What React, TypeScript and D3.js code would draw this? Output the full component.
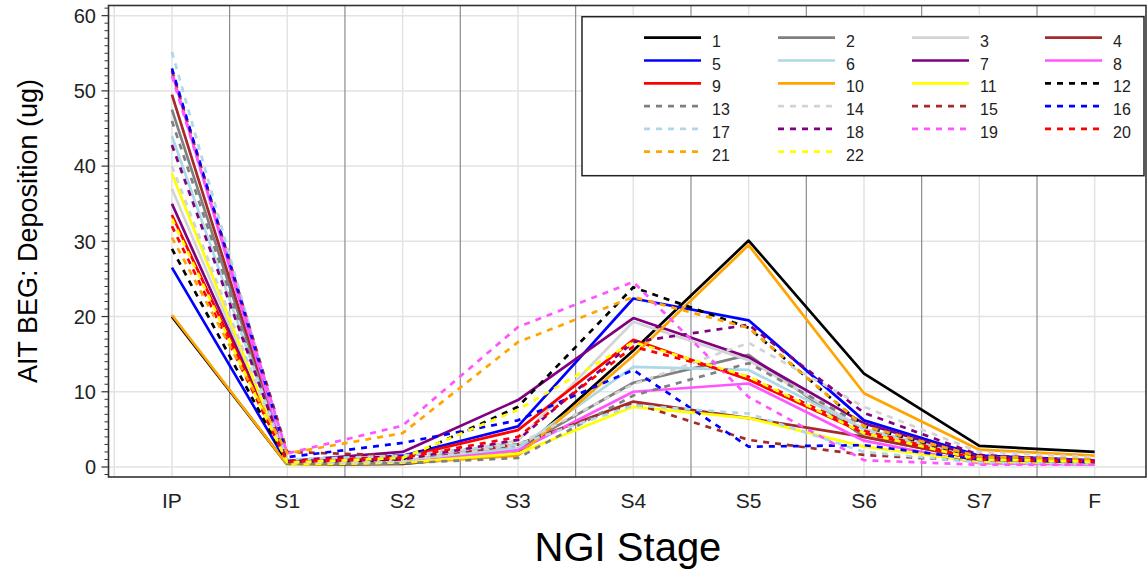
import React from "react";
import * as d3 from "d3";

const stages = ["IP", "S1", "S2", "S3", "S4", "S5", "S6", "S7", "F"];
const yTicks = [0, 10, 20, 30, 40, 50, 60];

const seriesNames = ["1","2","3","4","5","6","7","8","9","10","11","12","13","14","15","16","17","18","19","20","21","22"];
const seriesColors = [
  "#000000", "#808080", "#d3d3d3", "#a52a2a", "#0000ff", "#add8e6", "#800080", "#ff55ff",
  "#ff0000", "#ffa500", "#ffff00", "#000000", "#808080", "#d3d3d3", "#a52a2a", "#0000ff",
  "#add8e6", "#800080", "#ff55ff", "#ff0000", "#ffa500", "#ffff00",
];
const seriesDashed = [
  false, false, false, false, false, false, false, false, false, false, false,
  true, true, true, true, true, true, true, true, true, true, true,
];

const s1 = [20.0, 0.3, 0.4, 1.8, 15.5, 30.1, 12.4, 2.8, 2.0];
const s2 = [47.5, 0.5, 0.8, 2.5, 11.2, 14.9, 4.0, 1.0, 0.8];
const s3 = [37.0, 0.6, 0.8, 3.5, 19.3, 14.2, 5.0, 1.2, 0.9];
const s4 = [49.5, 0.5, 0.7, 3.0, 8.7, 6.5, 4.0, 1.0, 0.6];
const s5 = [26.5, 0.5, 1.5, 5.4, 22.4, 19.5, 6.2, 1.5, 0.9];
const s6 = [44.0, 0.5, 0.8, 2.5, 13.3, 12.9, 5.0, 1.3, 0.8];
const s7 = [35.0, 0.8, 2.0, 8.9, 19.8, 14.6, 5.8, 1.3, 0.8];
const s8 = [52.5, 0.5, 0.6, 2.2, 10.0, 11.1, 3.5, 0.5, 0.3];
const s9 = [33.5, 0.8, 1.3, 4.9, 16.9, 11.6, 4.5, 1.0, 0.6];
const s10 = [20.2, 0.3, 0.5, 1.5, 14.8, 29.5, 9.8, 2.3, 1.5];
const s11 = [39.0, 0.3, 0.6, 1.8, 8.0, 6.5, 2.7, 0.7, 0.5];
const s12 = [29.0, 0.5, 1.0, 8.0, 23.9, 18.5, 5.4, 1.2, 0.8];
const s13 = [46.0, 0.4, 0.5, 1.2, 9.5, 13.8, 5.5, 1.3, 1.0];
const s14 = [40.0, 0.5, 0.7, 3.0, 11.0, 16.5, 8.0, 2.0, 1.3];
const s15 = [52.7, 2.0, 1.5, 3.0, 8.5, 3.6, 1.6, 0.8, 0.4];
const s16 = [53.0, 1.3, 3.2, 6.2, 12.9, 2.7, 2.9, 1.0, 0.6];
const s17 = [55.2, 1.0, 1.5, 3.0, 8.2, 7.1, 2.0, 0.6, 0.4];
const s18 = [42.8, 0.8, 1.0, 3.6, 16.6, 18.9, 7.2, 1.6, 0.8];
const s19 = [52.0, 1.8, 5.5, 18.6, 24.6, 9.3, 0.9, 0.3, 0.3];
const s20 = [32.0, 0.7, 1.2, 4.0, 16.0, 12.0, 4.8, 1.0, 0.7];
const s21 = [30.5, 1.8, 4.5, 16.6, 22.6, 18.5, 5.4, 1.4, 1.0];
const s22 = [33.0, 0.6, 1.2, 7.6, 16.6, 12.0, 4.5, 1.0, 0.7];

const seriesValues = [s1, s2, s3, s4, s5, s6, s7, s8, s9, s10, s11, s12, s13, s14, s15, s16, s17, s18, s19, s20, s21, s22];

const W = 1147;
const H = 577;
const left = 108.5;
const right = 1146;
const top = 5.5;
const bottom = 477;

const FONT = "'Liberation Sans', Arial, sans-serif";

export default function App() {
  const x = d3.scaleLinear().domain([-0.55, 8.445]).range([left, right]);
  const y = d3.scaleLinear().domain([-1.33, 61.35]).range([bottom, top]);
  const line = d3
    .line<number>()
    .x((_, i) => x(i))
    .y((d) => y(d));

  const minorTicks = d3.range(-1, 62, 1).filter((v) => v % 10 !== 0 && y(v) > top && y(v) < bottom);
  const lightV = [-0.5, ...stages.map((_, i) => i)];
  const darkV = d3.range(0, stages.length - 1).map((i) => i + 0.5);

  const legCols = [644, 778, 912, 1045];
  const legRow0 = 37.7;
  const legRowH = 22.8;

  return (
    <div style={{ position: "fixed", left: 0, top: 0, width: W, height: H, background: "#fff" }}>
      <svg width={W} height={H} style={{ display: "block", fontFamily: FONT }}>
        <rect x={0} y={0} width={W} height={H} fill="#fff" />
        {yTicks.map((t) => (
          <line key={"hy" + t} x1={left} x2={right} y1={y(t)} y2={y(t)} stroke="#e3e3e3" strokeWidth={1.5} />
        ))}
        {lightV.map((v) => (
          <line key={"lv" + v} x1={x(v)} x2={x(v)} y1={top} y2={bottom} stroke="#e3e3e3" strokeWidth={1.5} />
        ))}
        {darkV.map((v) => (
          <line key={"dv" + v} x1={x(v)} x2={x(v)} y1={top} y2={bottom} stroke="#8c8c8c" strokeWidth={1.2} />
        ))}
        {seriesValues.map((vals, k) => (
          <path
            key={"s" + k}
            d={line(vals) || ""}
            fill="none"
            stroke={seriesColors[k]}
            strokeWidth={2.7}
            strokeDasharray={seriesDashed[k] ? "6,6" : undefined}
            strokeLinejoin="round"
          />
        ))}
        <rect x={left} y={top} width={right - left} height={bottom - top} fill="none" stroke="#333" strokeWidth={1.6} />
        {yTicks.map((t) => (
          <g key={"yt" + t}>
            <line x1={left - 7} x2={left} y1={y(t)} y2={y(t)} stroke="#333" strokeWidth={1.2} />
            <text x={96} y={y(t)} dy="0.36em" textAnchor="end" fontSize={20} fill="#222">
              {t}
            </text>
          </g>
        ))}
        {minorTicks.map((t) => (
          <line key={"mt" + t} x1={left - 4} x2={left} y1={y(t)} y2={y(t)} stroke="#333" strokeWidth={1} />
        ))}
        {stages.map((s, i) => (
          <text key={"xl" + s} x={x(i)} y={508} textAnchor="middle" fontSize={21} fill="#222">
            {s}
          </text>
        ))}
        <text x={628} y={561} textAnchor="middle" fontSize={40} fill="#000">
          NGI Stage
        </text>
        <text transform="translate(37,231) rotate(-90)" textAnchor="middle" fontSize={27} fill="#000">
          AIT BEG: Deposition (ug)
        </text>
        <rect x={582} y={16.7} width={562} height={159} fill="#fff" stroke="#222" strokeWidth={1.5} />
        {seriesNames.map((nm, k) => {
          const col = k % 4;
          const row = Math.floor(k / 4);
          const ly = legRow0 + row * legRowH;
          const lx = legCols[col];
          return (
            <g key={"lg" + k}>
              <line
                x1={lx}
                x2={lx + 57}
                y1={ly}
                y2={ly}
                stroke={seriesColors[k]}
                strokeWidth={2.7}
                strokeDasharray={seriesDashed[k] ? "6,6" : undefined}
              />
              <text x={lx + 68} y={ly + 9} fontSize={16} fill="#222">
                {nm}
              </text>
            </g>
          );
        })}
      </svg>
    </div>
  );
}
